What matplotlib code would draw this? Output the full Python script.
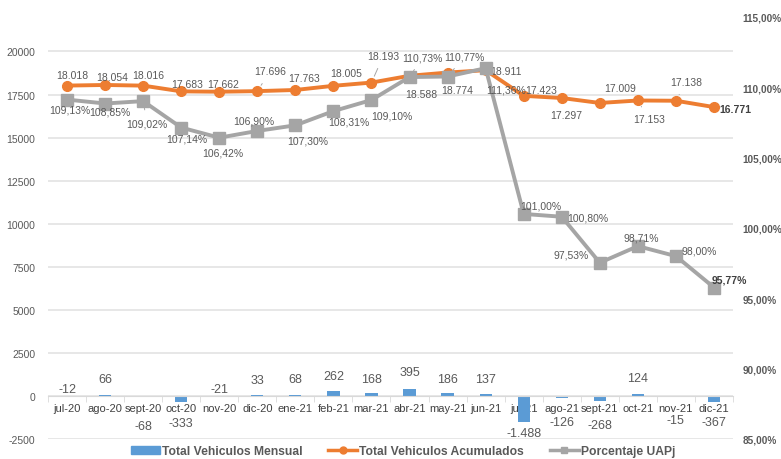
import matplotlib
matplotlib.use("Agg")
import matplotlib.pyplot as plt
from matplotlib.lines import Line2D
from matplotlib.patches import Patch

months = ["jul-20", "ago-20", "sept-20", "oct-20", "nov-20", "dic-20", "ene-21", "feb-21",
          "mar-21", "abr-21", "may-21", "jun-21", "jul-21", "ago-21", "sept-21", "oct-21",
          "nov-21", "dic-21"]
mensual = [-12, 66, -68, -333, -21, 33, 68, 262, 168, 395, 186, 137, -1488, -126, -268,
           124, -15, -367]
acumulados = [18018, 18054, 18016, 17683, 17662, 17696, 17763, 18005, 18193, 18588, 18774,
              18911, 17423, 17297, 17009, 17153, 17138, 16771]
porcentaje = [109.13, 108.85, 109.02, 107.14, 106.42, 106.90, 107.30, 108.31, 109.10,
              110.73, 110.77, 111.36, 101.00, 100.80, 97.53, 98.71, 98.00, 95.77]
left_ticks = [-2500, 0, 2500, 5000, 7500, 10000, 12500, 15000, 17500, 20000]
right_ticks = [85, 90, 95, 100, 105, 110, 115]

# label offsets (pixels) – layout only
acc_off = [(5, 11), (7, 8), (5, 11), (6, 7), (4, 8), (13, 20), (9, 12), (13, 13), (12, 27),
           (12, -18), (10, -17), (20, -1), (17, 6), (4, -17), (20, 15), (11, -19), (10, 19),
           (21, -2)]
acc_leader = [5, 8, 15, 16]
pct_off = [(3, -10), (5, -8), (4, -22), (6, -11), (4, -15), (-4, 10), (12, -15), (15, -10),
           (20, -16), (13, 20), (17, 20), (20, -21), (17, 8), (26, -1), (-29, 8), (3, 9),
           (23, 6), (15, 8)]
pct_leader = [2, 9, 10, 16]
bar_off = [7, 17, -30, -27, 7, 16, 17, 20, 17, 24, 17, 17, -37, -26, -29, 18, -24, -26]

plt.rcParams['font.family'] = ['Liberation Sans', 'DejaVu Sans']

BLUE = "#5B9BD5"
ORANGE = "#ED7D31"
GREY = "#A5A5A5"
TXT = "#595959"

fig = plt.figure(figsize=(7.81, 4.60), dpi=100)
ax = fig.add_axes([48 / 781, 1 - 440 / 460, 685 / 781, 422 / 460])
ax2 = ax.twinx()

x = list(range(len(months)))
ax.bar(x, mensual, width=0.32, color=BLUE, zorder=2)
ax.plot(x, acumulados, color=ORANGE, lw=2.8, marker="o", ms=7, zorder=3)
ax2.plot(x, porcentaje, color=GREY, lw=2.8, marker="s", ms=8, zorder=3)

ax.set_xlim(-0.5, len(months) - 0.5)
ax.set_ylim(-2500, 22000)
ax2.set_ylim(85, 115.0)

ax.set_yticks(left_ticks)
ax.set_yticklabels([str(t) for t in left_ticks], fontsize=7.5, color=TXT)
ax.tick_params(axis="y", length=0, pad=9)
ax.grid(axis="y", color="#E3E3E3", lw=1.2, zorder=0)
ax.set_axisbelow(True)

ax2.set_yticks(right_ticks)
ax2.set_yticklabels([f"{t},00%" for t in right_ticks], fontsize=7.2, color=TXT,
                    fontweight="bold")
ax2.tick_params(axis="y", length=0, pad=7)

for s in ["top", "right", "left"]:
    ax.spines[s].set_visible(False)
for s in ["top", "right", "left", "bottom"]:
    ax2.spines[s].set_visible(False)
ax.spines["bottom"].set_position(("data", 0))
ax.spines["bottom"].set_color("#D9D9D9")
ax.set_xticks(x)
ax.set_xticklabels(months, fontsize=8, color="#404040")
ax.tick_params(axis="x", length=0, pad=5)
ax.set_xticks([i - 0.5 for i in range(len(months) + 1)], minor=True)
ax.tick_params(axis="x", which="minor", length=4, color="#D9D9D9")

def fmt_thousands(v):
    s = f"{abs(v):,}".replace(",", ".")
    return ("-" if v < 0 else "") + s

leader = dict(arrowstyle="-", color="#A6A6A6", lw=0.7, shrinkA=4, shrinkB=5)

for i, v in enumerate(mensual):
    ax.annotate(fmt_thousands(v), (i, 0), xytext=(0, bar_off[i]),
                textcoords="offset pixels", ha="center", va="center",
                fontsize=9, color=TXT)

for i, v in enumerate(acumulados):
    last = i == len(acumulados) - 1
    ax.annotate(fmt_thousands(v), (i, v), xytext=acc_off[i], textcoords="offset pixels",
                ha="center", va="center", fontsize=7.5,
                color="#404040" if last else TXT,
                fontweight="bold" if last else "normal", zorder=5,
                arrowprops=leader if i in acc_leader else None)

for i, v in enumerate(porcentaje):
    last = i == len(porcentaje) - 1
    ax2.annotate(f"{v:.2f}%".replace(".", ","), (i, v), xytext=pct_off[i],
                 textcoords="offset pixels", ha="center", va="center", fontsize=7.5,
                 color="#404040" if last else TXT,
                 fontweight="bold" if last else "normal", zorder=5,
                 arrowprops=leader if i in pct_leader else None)

handles = [Patch(color=BLUE),
           Line2D([], [], color=ORANGE, lw=2.5, marker="o", ms=5),
           Line2D([], [], color=GREY, lw=2.5, marker="s", ms=5)]
labels = ["Total Vehiculos Mensual", "Total Vehiculos Acumulados", "Porcentaje UAPj"]
fig.legend(handles, labels, loc="center", bbox_to_anchor=(403 / 781, 1 - 452 / 460),
           ncol=3, frameon=False, prop={"size": 8.7, "weight": "bold"},
           labelcolor=TXT, handlelength=2.4, handleheight=0.6, handletextpad=0.2,
           columnspacing=2.1, borderpad=0)

fig.savefig("out.png", dpi=100)
